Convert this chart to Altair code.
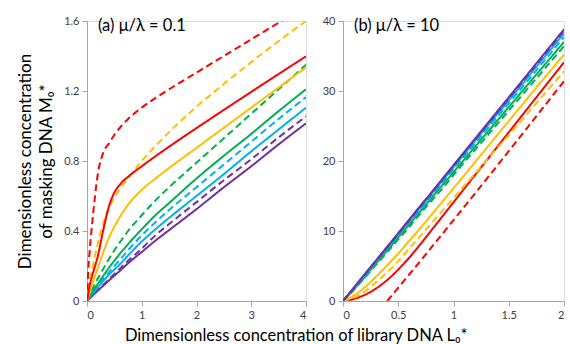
import altair as alt
import pandas as pd

# ---------------- Panel (a): mu/lambda = 0.1 ----------------
LA = [0, 0.02, 0.05, 0.1, 0.2, 0.3, 0.4, 0.5, 0.6, 0.75, 1, 1.25, 1.5, 2, 2.5, 3, 3.5, 4]
A_RED_DASH = [0, 0.16, 0.29, 0.46, 0.73, 0.85, 0.90, 0.95, 0.99, 1.04, 1.105, 1.16, 1.21, 1.305, 1.40, 1.495, 1.59, 1.685]
A_RED_SOLID = [0, 0.035, 0.09, 0.15, 0.26, 0.41, 0.54, 0.62, 0.665, 0.71, 0.77, 0.827, 0.882, 0.988, 1.092, 1.195, 1.297, 1.398]
A_ORANGE_DASH = [0, 0.05, 0.11, 0.19, 0.33, 0.45, 0.53, 0.59, 0.64, 0.70, 0.80, 0.885, 0.965, 1.11, 1.24, 1.365, 1.485, 1.60]
A_ORANGE_SOLID = [0, 0.02, 0.05, 0.10, 0.19, 0.28, 0.36, 0.425, 0.48, 0.55, 0.635, 0.70, 0.76, 0.875, 0.99, 1.105, 1.22, 1.335]
A_GREEN_DASH = [0, 0.014, 0.035, 0.07, 0.13, 0.185, 0.24, 0.29, 0.335, 0.40, 0.49, 0.575, 0.65, 0.79, 0.93, 1.07, 1.21, 1.35]
A_GREEN_SOLID = [0, 0.011, 0.027, 0.053, 0.10, 0.145, 0.19, 0.23, 0.27, 0.325, 0.41, 0.49, 0.56, 0.70, 0.83, 0.955, 1.085, 1.21]
A_BLUE_DASH = [0, 0.009, 0.023, 0.045, 0.087, 0.128, 0.165, 0.20, 0.235, 0.29, 0.375, 0.45, 0.52, 0.65, 0.78, 0.91, 1.04, 1.165]
A_BLUE_SOLID = [0, 0.008, 0.02, 0.04, 0.078, 0.115, 0.15, 0.18, 0.21, 0.26, 0.34, 0.41, 0.475, 0.60, 0.725, 0.855, 0.98, 1.105]
A_PURPLE_DASH = [0, 0.006, 0.016, 0.032, 0.063, 0.093, 0.124, 0.155, 0.185, 0.23, 0.30, 0.375, 0.44, 0.565, 0.69, 0.81, 0.935, 1.055]
A_PURPLE_SOLID = [0, 0.006, 0.015, 0.03, 0.06, 0.088, 0.117, 0.145, 0.172, 0.215, 0.28, 0.345, 0.405, 0.525, 0.65, 0.77, 0.895, 1.015]

# ---------------- Panel (b): mu/lambda = 10 ----------------
LB = [0, 0.1, 0.2, 0.3, 0.4, 0.5, 0.6, 0.7, 0.8, 0.9, 1.0, 1.25, 1.5, 1.75, 2]
B_RED_DASH = [None, None, None, None, 0, 1.9, 3.8, 5.7, 7.65, 9.6, 11.55, 16.45, 21.4, 26.4, 31.4]
B_RED_SOLID = [0, 0.3, 0.9, 1.8, 3.0, 4.5, 6.2, 8.1, 10.1, 12.1, 14.1, 19.1, 24.1, 29.1, 34.1]
B_ORANGE_DASH = [0, 0.5, 1.4, 2.7, 4.1, 5.7, 7.5, 9.3, 11.1, 12.9, 14.7, 19.2, 23.7, 28.25, 32.8]
B_ORANGE_SOLID = [0, 0.8, 2.0, 3.5, 5.1, 6.8, 8.6, 10.4, 12.3, 14.2, 16.1, 20.9, 25.7, 30.5, 35.2]
B_GREEN_DASH = [0, 1.6, 3.4, 5.2, 7.0, 8.8, 10.6, 12.5, 14.3, 16.1, 18.0, 22.6, 27.2, 31.8, 36.4]
B_GREEN_SOLID = [0, 1.7, 3.5, 5.4, 7.2, 9.1, 10.95, 12.8, 14.7, 16.55, 18.4, 23.05, 27.7, 32.35, 37.0]
B_BLUE_DASH = [0, 1.8, 3.7, 5.6, 7.5, 9.35, 11.25, 13.1, 15.0, 16.9, 18.8, 23.5, 28.25, 32.95, 37.7]
B_BLUE_SOLID = [0, 1.85, 3.75, 5.65, 7.6, 9.5, 11.4, 13.35, 15.25, 17.2, 19.1, 23.9, 28.65, 33.45, 38.2]
B_PURPLE_DASH = [0, 1.9, 3.85, 5.8, 7.7, 9.6, 11.55, 13.5, 15.4, 17.35, 19.3, 24.1, 28.95, 33.8, 38.6]
B_PURPLE_SOLID = [0, 1.95, 3.9, 5.8, 7.75, 9.7, 11.65, 13.6, 15.5, 17.45, 19.4, 24.25, 29.1, 33.95, 38.8]

HUES = ["purple", "blue", "green", "orange", "red"]
HUE_COLORS = ["#7030A0", "#00B0F0", "#00B050", "#FFC000", "#FF0000"]

series_a = [
    ("purple", "solid", A_PURPLE_SOLID), ("purple", "dashed", A_PURPLE_DASH),
    ("blue", "solid", A_BLUE_SOLID), ("blue", "dashed", A_BLUE_DASH),
    ("green", "solid", A_GREEN_SOLID), ("green", "dashed", A_GREEN_DASH),
    ("orange", "solid", A_ORANGE_SOLID), ("orange", "dashed", A_ORANGE_DASH),
    ("red", "solid", A_RED_SOLID), ("red", "dashed", A_RED_DASH),
]
series_b = [
    ("red", "dashed", B_RED_DASH), ("red", "solid", B_RED_SOLID),
    ("orange", "dashed", B_ORANGE_DASH), ("orange", "solid", B_ORANGE_SOLID),
    ("green", "dashed", B_GREEN_DASH), ("green", "solid", B_GREEN_SOLID),
    ("blue", "dashed", B_BLUE_DASH), ("blue", "solid", B_BLUE_SOLID),
    ("purple", "dashed", B_PURPLE_DASH), ("purple", "solid", B_PURPLE_SOLID),
]


def make_df(xs, series):
    rows = []
    for k, (hue, style, ys) in enumerate(series):
        for x, y in zip(xs, ys):
            if y is None:
                continue
            rows.append({"L": x, "M": y, "hue": hue, "style": style,
                         "series": f"{k:02d}_{hue}_{style}"})
    return pd.DataFrame(rows)


df_a = make_df(LA, series_a)
df_b = make_df(LB, series_b)

FONT = "Lato"

color_enc = alt.Color("hue:N", scale=alt.Scale(domain=HUES, range=HUE_COLORS), legend=None)
dash_enc = alt.StrokeDash("style:N", scale=alt.Scale(domain=["solid", "dashed"], range=[[1, 0], [7, 4]]), legend=None)

axis_common = dict(grid=False, domainColor="#A6A6A6", tickColor="#A6A6A6", tickSize=5,
                   labelColor="#404040", labelFontSize=11, labelFont=FONT, labelPadding=3)


def panel(df, xdom, xticks, ydom, yticks, label, ytitle, xfmt, yfmt, w, h, yext):
    lines = alt.Chart(df).mark_line(strokeWidth=2, clip=True, interpolate="monotone").encode(
        x=alt.X("L:Q", scale=alt.Scale(domain=xdom, nice=False),
                axis=alt.Axis(values=xticks, format=xfmt, title=None, **axis_common)),
        y=alt.Y("M:Q", scale=alt.Scale(domain=ydom, nice=False),
                axis=alt.Axis(values=yticks, format=yfmt, title=ytitle,
                              titleFontSize=17, titleFont=FONT, titleFontWeight="normal",
                              titleColor="#000000", titlePadding=8, titleLineHeight=21,
                              minExtent=yext, maxExtent=yext,
                              **axis_common)),
        color=color_enc,
        strokeDash=dash_enc,
        detail="series:N",
    )
    txt = alt.Chart(pd.DataFrame({"t": [label]})).mark_text(
        align="left", baseline="middle", fontSize=16.5, font=FONT, color="#000000"
    ).encode(x=alt.value(11), y=alt.value(5), text="t:N")
    return alt.layer(lines, txt).properties(width=w, height=h)


left = panel(df_a, [0, 4], [0, 1, 2, 3, 4], [0, 1.6], [0, 0.4, 0.8, 1.2, 1.6],
             "(a) μ/λ = 0.1", ["Dimensionless concentration", "of masking DNA M₀*"],
             "d", ".1~f", 219, 280, 24)
right = panel(df_b, [0, 2], [0, 0.5, 1, 1.5, 2], [0, 40], [0, 10, 20, 30, 40],
              "(b) μ/λ = 10", None, ".1~f", "d", 221, 280, 21)

chart = alt.hconcat(left, right, spacing=14).properties(
    title=alt.TitleParams(
        text="Dimensionless concentration of library DNA L₀*",
        orient="bottom", anchor="middle", fontSize=16.5, font=FONT,
        fontWeight="normal", color="#000000", offset=7, dx=6,
    ),
    padding={"left": 15, "top": 14, "right": 2, "bottom": 2},
).configure_view(stroke=None).configure(background="white")

chart.save("out.html", embed_options={"renderer": "svg", "actions": False})
